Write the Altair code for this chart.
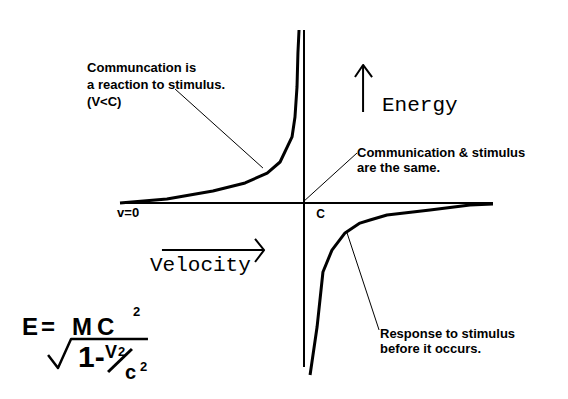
import altair as alt
import pandas as pd

# Velocity in units of C (C = 1), energy in arbitrary units
C = 1.0

# Energy curve for v < C
low_v = [0.0, 0.255, 0.505, 0.68, 0.80, 0.87, 0.935, 0.951, 0.962, 0.967, 0.973]
low_E = [0.0, 0.23, 0.69, 1.16, 1.73, 2.37, 3.82, 4.97, 6.71, 8.67, 10.0]

# Energy curve for v > C
high_v = [1.033, 1.071, 1.103, 1.152, 1.223, 1.304, 1.359, 1.451, 1.685, 1.902, 2.027]
high_E = [-9.94, -7.17, -3.99, -2.72, -1.73, -1.16, -0.98, -0.69, -0.40, -0.12, -0.06]

# Axes extent
v_axis_end = 2.027
E_axis_top, E_axis_bottom = 10.0, -9.48

# Callout lines: (v start, E start, v end, E end)
callouts = [
    (0.299, 6.59, 0.777, 2.02),
    (0.995, 0.06, 1.288, 2.89),
    (1.234, -1.73, 1.408, -7.34),
]

# Labels
sans_labels = ["Communcation is", "a reaction to stimulus.", "(V<C)",
               "Communication & stimulus", "are the same.",
               "Response to stimulus", "before it occurs.", "v=0", "C"]
sans_v = [-0.179, -0.179, -0.179, 1.288, 1.288, 1.413, 1.413, -0.016, 1.067]
sans_E = [7.57, 6.59, 5.61, 2.66, 1.79, -7.80, -8.67, -0.81, -0.87]
sans_size = [13, 13, 13, 13, 13, 13, 13, 13, 12]

mono_labels = ["Energy", "Velocity"]
mono_v = [1.424, 0.163]
mono_E = [5.32, -3.93]

# Formula E = MC^2 / sqrt(1 - V^2/c^2)
formula_parts = ["E", "=", "M", "C", "2", "1-", "V", "2", "c", "2"]
formula_v = [-0.533, -0.430, -0.261, -0.125, 0.071, -0.228, -0.082, -0.011, 0.027, 0.109]
formula_E = [-7.63, -7.63, -7.63, -7.63, -6.53, -9.48, -8.96, -8.84, -10.17, -9.71]
formula_size = [24, 24, 24, 24, 13, 30, 18, 13, 20, 13]

sqrt_v = [-0.391, -0.337, -0.266, 0.152]
sqrt_E = [-8.79, -9.54, -7.86, -7.86]
slash_v = [-0.065, 0.065]
slash_E = [-9.77, -8.44]

# Arrows
up_shaft_v, up_shaft_E = [1.321, 1.321], [5.26, 7.98]
up_head_v, up_head_E = [1.277, 1.321, 1.370], [7.28, 7.98, 7.28]
right_shaft_v, right_shaft_E = [0.228, 0.783], [-2.72, -2.72]
right_head_v, right_head_E = [0.734, 0.783, 0.734], [-2.08, -2.72, -3.41]

# ---- build tables ----
rows = []
def add(name, vs, Es, w):
    for i, (a, b) in enumerate(zip(vs, Es)):
        rows.append({"id": name, "i": i, "v": a, "E": b, "w": w})

add("haxis", [0.0, v_axis_end], [0.0, 0.0], 2)
add("vaxis", [C, C], [E_axis_top, E_axis_bottom], 2)
add("low", low_v, low_E, 3)
add("high", high_v, high_E, 3)
for k, (a, b, c, d) in enumerate(callouts):
    add(f"call{k}", [a, c], [b, d], 1)
add("sqrt", sqrt_v, sqrt_E, 2.5)
add("slash", slash_v, slash_E, 3)
add("upshaft", up_shaft_v, up_shaft_E, 2)
add("uphead", up_head_v, up_head_E, 2)
add("rshaft", right_shaft_v, right_shaft_E, 2)
add("rhead", right_head_v, right_head_E, 2)
lines = pd.DataFrame(rows)

sans = pd.DataFrame({"t": sans_labels, "v": sans_v, "E": sans_E, "s": sans_size})
mono = pd.DataFrame({"t": mono_labels, "v": mono_v, "E": mono_E})
formula = pd.DataFrame({"t": formula_parts, "v": formula_v, "E": formula_E, "s": formula_size})

xs = alt.Scale(domain=[-112 / 184, 440 / 184], nice=False, zero=False)
ys = alt.Scale(domain=[-188 / 17.3, 195 / 17.3], nice=False, zero=False)
X = alt.X("v:Q", scale=xs, axis=None)
Y = alt.Y("E:Q", scale=ys, axis=None)

line_layer = alt.Chart(lines).mark_line(color="black", strokeJoin="round").encode(
    x=X, y=Y, detail="id:N", order="i:Q",
    strokeWidth=alt.StrokeWidth("w:Q", scale=None),
)

sans_layer = alt.Chart(sans).mark_text(
    font="Liberation Sans", fontWeight="bold", align="left", baseline="alphabetic", color="black"
).encode(x=X, y=Y, text="t:N", size=alt.Size("s:Q", scale=None))

mono_layer = alt.Chart(mono).mark_text(
    font="Liberation Mono", fontSize=21, align="left", baseline="alphabetic", color="black"
).encode(x=X, y=Y, text="t:N")

formula_layer = alt.Chart(formula).mark_text(
    font="Liberation Sans", fontWeight="bold", align="left", baseline="alphabetic", color="black"
).encode(x=X, y=Y, text="t:N", size=alt.Size("s:Q", scale=None))

chart = alt.layer(line_layer, sans_layer, mono_layer, formula_layer).properties(
    width=552, height=383, padding=0, autosize="none", background="white"
).configure_view(stroke=None)

chart.save("out.html", embed_options={"renderer": "svg", "actions": False})
